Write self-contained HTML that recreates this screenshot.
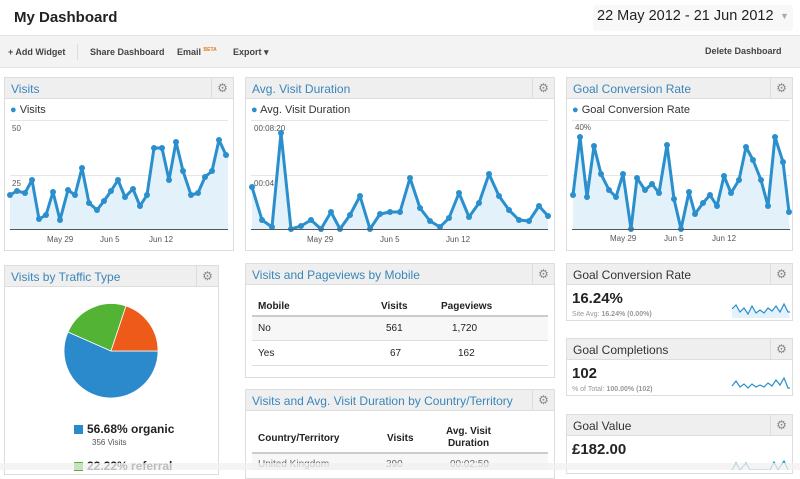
<!DOCTYPE html>
<html><head><meta charset="utf-8"><style>
*{margin:0;padding:0;box-sizing:border-box}
body{width:800px;height:470px;overflow:hidden;background:#fff;font-family:"Liberation Sans",Arial,sans-serif;position:relative}
.a{position:absolute;white-space:nowrap}
.p{position:absolute;background:#fff;border:1px solid #ddd}
.h{position:absolute;left:0;right:0;top:0;height:21px;background:#efefef;border-bottom:1px solid #ddd}
.h span{position:absolute;left:6px;top:4px;font-size:12px;color:#3a86b8}
.g{position:absolute;right:0;top:0;width:22px;height:20px;border-left:1px solid #ddd;color:#888;font-size:12px;text-align:center;line-height:20px}
.dk span{color:#333}
.b{font-weight:bold}
</style></head><body>
<div class="a" style="left:0;top:0;width:800px;height:36px;background:#fff;border-bottom:1px solid #e4e4e4"></div>
<div class="a b" style="left:14px;top:9px;font-size:15px;color:#222">My Dashboard</div>
<div class="a" style="left:593px;top:5px;width:200px;height:26px;background:#f8f8f8;border-radius:3px"></div>
<div class="a" style="left:597px;top:8px;font-size:14.5px;color:#222">22 May 2012 - 21 Jun 2012</div>
<div class="a" style="left:780px;top:11px;font-size:9px;color:#aaa">▼</div>
<div class="a" style="left:0;top:36px;width:800px;height:32px;background:#f3f3f3;border-bottom:1px solid #e4e4e4"></div>
<div class="a b" style="left:8px;top:47px;font-size:9px;color:#444">+ Add Widget</div>
<div class="a" style="left:77px;top:44px;width:1px;height:16px;background:#ddd"></div>
<div class="a b" style="left:90px;top:47px;font-size:9px;color:#444">Share Dashboard</div>
<div class="a b" style="left:177px;top:47px;font-size:9px;color:#444">Email <sup style="font-size:5px;color:#e08020">BETA</sup></div>
<div class="a b" style="left:233px;top:47px;font-size:9px;color:#444">Export ▾</div>
<div class="a b" style="left:705px;top:46px;font-size:9px;color:#444">Delete Dashboard</div>

<div class="p" style="left:4px;top:77px;width:230px;height:174px"><div class="h"><span>Visits</span><div class="g">⚙</div></div></div>
<div class="p" style="left:245px;top:77px;width:310px;height:174px"><div class="h"><span>Avg. Visit Duration</span><div class="g">⚙</div></div></div>
<div class="p" style="left:566px;top:77px;width:227px;height:174px"><div class="h"><span>Goal Conversion Rate</span><div class="g">⚙</div></div></div>

<div class="a" style="left:10px;top:104px;font-size:11px;color:#333"><span style="color:#2a8fcc">●</span> Visits</div>
<div class="a" style="left:251px;top:104px;font-size:11px;color:#333"><span style="color:#2a8fcc">●</span> Avg. Visit Duration</div>
<div class="a" style="left:572px;top:104px;font-size:11px;color:#333"><span style="color:#2a8fcc">●</span> Goal Conversion Rate</div>

<svg class="a" style="left:0;top:0" width="800" height="470">
<defs><marker id="m" markerUnits="userSpaceOnUse" markerWidth="8" markerHeight="8" refX="4" refY="4"><circle cx="4" cy="4" r="3" fill="#2a8fcc"/></marker></defs>
<g stroke="#e6e6e6" stroke-width="1">
<line x1="10" y1="120.5" x2="228" y2="120.5"/><line x1="10" y1="175.5" x2="228" y2="175.5"/>
<line x1="251" y1="120.5" x2="548" y2="120.5"/><line x1="251" y1="175.5" x2="548" y2="175.5"/>
<line x1="572" y1="120.5" x2="790" y2="120.5"/><line x1="572" y1="175.5" x2="790" y2="175.5"/>
</g>
<g font-size="8" fill="#555" font-family="Liberation Sans">
<text x="12" y="131">50</text><text x="12" y="186">25</text>
<text x="254" y="131">00:08:20</text><text x="254" y="186">00:04:10</text>
<text x="575" y="130">40%</text><text x="575" y="185">20%</text>
<text x="47" y="242">May 29</text><text x="100" y="242">Jun 5</text><text x="149" y="242">Jun 12</text>
<text x="307" y="242">May 29</text><text x="380" y="242">Jun 5</text><text x="446" y="242">Jun 12</text>
<text x="610" y="241">May 29</text><text x="664" y="241">Jun 5</text><text x="712" y="241">Jun 12</text>
</g>
<polygon fill="#e3f1fa" points="10,229 10,195 17,191 25,193 32,180 39,219 46,215 53,192 60,220 68,190 75,195 82,168 89,203 97,210 104,201 111,191 118,180 125,197 133,189 140,206 147,195 154,148 162,148 169,180 176,142 183,171 191,195 198,193 205,177 212,171 219,140 226,155 228,157 228,229"/>
<polyline fill="none" stroke="#2a8fcc" stroke-width="3" stroke-linejoin="round" marker-start="url(#m)" marker-mid="url(#m)" points="10,195 17,191 25,193 32,180 39,219 46,215 53,192 60,220 68,190 75,195 82,168 89,203 97,210 104,201 111,191 118,180 125,197 133,189 140,206 147,195 154,148 162,148 169,180 176,142 183,171 191,195 198,193 205,177 212,171 219,140 226,155 228,157"/>
<line x1="10" y1="229.5" x2="228" y2="229.5" stroke="#555"/>
<polygon fill="#e3f1fa" points="252,229 252,187 262,220 272,227 281,133 291,229 301,226 311,220 321,229 331,212 340,229 350,215 360,196 370,229 380,214 390,212 400,212 410,178 420,208 430,221 440,227 449,218 459,193 469,217 479,203 489,174 499,196 509,210 519,220 529,221 539,206 548,216 548,229"/>
<polyline fill="none" stroke="#2a8fcc" stroke-width="3" stroke-linejoin="round" marker-start="url(#m)" marker-mid="url(#m)" marker-end="url(#m)" points="252,187 262,220 272,227 281,133 291,229 301,226 311,220 321,229 331,212 340,229 350,215 360,196 370,229 380,214 390,212 400,212 410,178 420,208 430,221 440,227 449,218 459,193 469,217 479,203 489,174 499,196 509,210 519,220 529,221 539,206 548,216"/>
<line x1="251" y1="229.5" x2="548" y2="229.5" stroke="#555"/>
<polygon fill="#e3f1fa" points="573,229 573,195 580,137 587,197 594,146 601,174 609,190 616,197 623,174 631,229 637,178 645,190 652,184 659,193 667,145 674,199 681,229 689,192 695,214 703,203 710,195 717,206 724,176 731,193 739,180 746,147 753,160 761,180 768,206 775,137 783,162 789,212 789,229"/>
<polyline fill="none" stroke="#2a8fcc" stroke-width="3" stroke-linejoin="round" marker-start="url(#m)" marker-mid="url(#m)" marker-end="url(#m)" points="573,195 580,137 587,197 594,146 601,174 609,190 616,197 623,174 631,229 637,178 645,190 652,184 659,193 667,145 674,199 681,229 689,192 695,214 703,203 710,195 717,206 724,176 731,193 739,180 746,147 753,160 761,180 768,206 775,137 783,162 789,212"/>
<line x1="572" y1="229.5" x2="790" y2="229.5" stroke="#555"/>
</svg>

<div class="p" style="left:4px;top:265px;width:215px;height:210px"><div class="h"><span>Visits by Traffic Type</span><div class="g">⚙</div></div></div>
<svg class="a" style="left:0;top:0" width="800" height="470">
<path d="M111,351 L158,351 A47,47 0 1 1 68,332 Z" fill="#2a8acb" stroke="#fff" stroke-width="0.8"/>
<path d="M111,351 L68,332 A47,47 0 0 1 126,306 Z" fill="#52b334" stroke="#fff" stroke-width="0.8"/>
<path d="M111,351 L126,306 A47,47 0 0 1 158,351 Z" fill="#ee5a1a" stroke="#fff" stroke-width="0.8"/>
</svg>
<div class="a" style="left:74px;top:425px;width:9px;height:9px;background:#2a8acb"></div>
<div class="a b" style="left:87px;top:422px;font-size:12px;color:#222">56.68% organic</div>
<div class="a" style="left:92px;top:438px;font-size:8px;color:#555">356 Visits</div>
<div class="a" style="left:74px;top:462px;width:9px;height:9px;background:#52b334"></div>
<div class="a b" style="left:87px;top:459px;font-size:12px;color:#222">22.22% referral</div>

<div class="p" style="left:245px;top:263px;width:310px;height:115px"><div class="h"><span>Visits and Pageviews by Mobile</span><div class="g">⚙</div></div></div>
<div class="a b" style="left:258px;top:301px;font-size:10px;color:#222">Mobile</div>
<div class="a b" style="left:381px;top:301px;font-size:10px;color:#222">Visits</div>
<div class="a b" style="left:441px;top:301px;font-size:10px;color:#222">Pageviews</div>
<div class="a" style="left:252px;top:315px;width:296px;height:2px;background:#ccc"></div>
<div class="a" style="left:252px;top:317px;width:296px;height:24px;background:#f7f7f7;border-bottom:1px solid #ddd"></div>
<div class="a" style="left:258px;top:323px;font-size:10px;color:#222">No</div>
<div class="a" style="left:386px;top:323px;font-size:10px;color:#222">561</div>
<div class="a" style="left:452px;top:323px;font-size:10px;color:#222">1,720</div>
<div class="a" style="left:252px;top:365px;width:296px;height:1px;background:#ddd"></div>
<div class="a" style="left:258px;top:348px;font-size:10px;color:#222">Yes</div>
<div class="a" style="left:390px;top:348px;font-size:10px;color:#222">67</div>
<div class="a" style="left:458px;top:348px;font-size:10px;color:#222">162</div>

<div class="p" style="left:245px;top:389px;width:310px;height:90px"><div class="h"><span>Visits and Avg. Visit Duration by Country/Territory</span><div class="g">⚙</div></div></div>
<div class="a b" style="left:258px;top:433px;font-size:10px;color:#222">Country/Territory</div>
<div class="a b" style="left:387px;top:433px;font-size:10px;color:#222">Visits</div>
<div class="a b" style="left:446px;top:426px;font-size:10px;color:#222;text-align:center;line-height:12px">Avg. Visit<br>Duration</div>
<div class="a" style="left:252px;top:452px;width:296px;height:2px;background:#ccc"></div>
<div class="a" style="left:252px;top:454px;width:296px;height:16px;background:#f7f7f7"></div>
<div class="a" style="left:258px;top:459px;font-size:10px;color:#666">United Kingdom</div>
<div class="a" style="left:386px;top:459px;font-size:10px;color:#666">390</div>
<div class="a" style="left:450px;top:459px;font-size:10px;color:#666">00:02:50</div>

<div class="p dk" style="left:566px;top:263px;width:227px;height:58px"><div class="h"><span>Goal Conversion Rate</span><div class="g">⚙</div></div></div>
<div class="a b" style="left:572px;top:290px;font-size:15px;color:#222">16.24%</div>
<div class="a" style="left:572px;top:311px;font-size:7px;color:#999">Site Avg: <b>16.24% (0.00%)</b></div>
<div class="p dk" style="left:566px;top:338px;width:227px;height:58px"><div class="h"><span>Goal Completions</span><div class="g">⚙</div></div></div>
<div class="a b" style="left:572px;top:365px;font-size:15px;color:#222">102</div>
<div class="a" style="left:572px;top:386px;font-size:7px;color:#999">% of Total: <b>100.00% (102)</b></div>
<div class="p dk" style="left:566px;top:414px;width:227px;height:60px"><div class="h"><span>Goal Value</span><div class="g">⚙</div></div></div>
<div class="a b" style="left:572px;top:441px;font-size:15px;color:#222">£182.00</div>
<svg class="a" style="left:0;top:0" width="800" height="470">
<polygon fill="#e3f1fa" points="732,318 732,309 736,305 740,312 744,308 748,314 752,306 756,313 760,310 764,313 768,308 772,311 776,306 780,312 784,304 788,312 790,318"/>
<polyline fill="none" stroke="#2a8fcc" stroke-width="1.2" points="732,309 736,305 740,312 744,308 748,314 752,306 756,313 760,310 764,313 768,308 772,311 776,306 780,312 784,304 788,312 790,312"/>
<polyline fill="none" stroke="#2a8fcc" stroke-width="1.2" points="732,386 736,381 740,387 744,384 748,388 752,384 756,387 760,385 764,387 768,383 772,386 776,380 780,385 784,378 788,388 790,388"/>
<polyline fill="none" stroke="#2a8fcc" stroke-width="1.2" points="732,470 736,463 740,470 746,463 750,470 770,470 774,462 778,470 784,461 788,470"/>
</svg>
<div class="a" style="left:0;top:463px;width:800px;height:7px;background:rgba(240,240,240,0.75)"></div>
</body></html>
